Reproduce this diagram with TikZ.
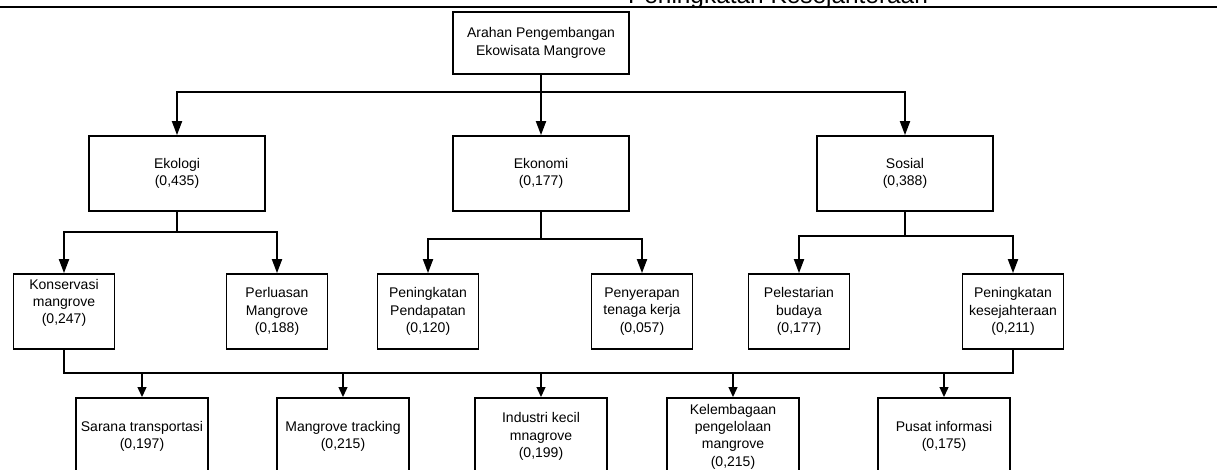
\documentclass[tikz,border=0pt]{standalone}
\usepackage{fontspec}
\setmainfont{Liberation Sans}
\usetikzlibrary{arrows.meta}
\begin{document}
\begin{tikzpicture}[x=0.75pt,y=-0.75pt,
  base/.style={draw=black, line width=1.3pt, fill=white, align=center, inner sep=0pt, font=\fontsize{10.5}{13}\selectfont},
  topbox/.style={base, minimum width=132pt, minimum height=46.5pt},
  lvltwo/.style={base, minimum width=132pt, minimum height=56.25pt},
  lvlthree/.style={base, minimum width=75.75pt, minimum height=56.25pt},
  lvlfour/.style={base, minimum width=99pt, minimum height=57.75pt},
  conn/.style={line width=1.4pt},
  arr/.style={conn, -{Triangle[length=10.5pt,width=7.5pt]}},
  arrsm/.style={conn, -{Triangle[length=7.5pt,width=6.5pt]}}
]
\clip (0,0) rectangle (1217,470);
\fill[white] (0,0) rectangle (1217,470);
\node[anchor=base, inner sep=0pt, font=\fontsize{18.3}{20}\selectfont] (hdr) at (778,3.5) {Peningkatan Kesejahteraan};
\draw[line width=1.8pt] (0,7) -- (1217,7);

\node[topbox] (top) at (541,43) {Arahan Pengembangan\\Ekowisata Mangrove};
\node[lvltwo] (ekol) at (177,173.5) {Ekologi\\(0,435)};
\node[lvltwo] (ekon) at (541,173.5) {Ekonomi\\(0,177)};
\node[lvltwo] (sos) at (905,173.5) {Sosial\\(0,388)};

\node[lvlthree, label={[base, draw=none, fill=none, yshift=6.4pt]center:{Konservasi\\mangrove\\(0,247)}}] (kons) at (64,311.5) {};
\node[lvlthree] (perl) at (277,311.5) {Perluasan\\Mangrove\\(0,188)};
\node[lvlthree] (pend) at (428,311.5) {Peningkatan\\Pendapatan\\(0,120)};
\node[lvlthree] (peny) at (642,311.5) {Penyerapan\\tenaga kerja\\(0,057)};
\node[lvlthree] (pele) at (799,311.5) {Pelestarian\\budaya\\(0,177)};
\node[lvlthree] (kese) at (1013,311.5) {Peningkatan\\kesejahteraan\\(0,211)};

\node[lvlfour] (sar) at (142,436.5) {Sarana transportasi\\(0,197)};
\node[lvlfour] (man) at (343,436.5) {Mangrove tracking\\(0,215)};
\node[lvlfour] (ind) at (541,436.5) {Industri kecil\\mnagrove\\(0,199)};
\node[lvlfour] (kel) at (733,436.5) {Kelembagaan\\pengelolaan\\mangrove\\(0,215)};
\node[lvlfour] (pus) at (944,436.5) {Pusat informasi\\(0,175)};

\coordinate (b1) at (541,92);
\draw[conn] (top.south) -- (b1);
\draw[arr] (b1) -| (ekol.north);
\draw[arr] (b1) -- (ekon.north);
\draw[arr] (b1) -| (sos.north);

\coordinate (c1) at (177,232);
\coordinate (c2) at (541,239);
\coordinate (c3) at (905,236);
\draw[conn] (ekol.south) -- (c1);
\draw[arr] (c1) -| (kons.north);
\draw[arr] (c1) -| (perl.north);
\draw[conn] (ekon.south) -- (c2);
\draw[arr] (c2) -| (pend.north);
\draw[arr] (c2) -| (peny.north);
\draw[conn] (sos.south) -- (c3);
\draw[arr] (c3) -| (pele.north);
\draw[arr] (c3) -| (kese.north);

\coordinate (dl) at (64,373);
\coordinate (dr) at (1013,373);
\draw[conn] (kons.south) -- (dl) -- (dr) -- (kese.south);
\foreach \n in {sar,man,ind,kel,pus} \draw[arrsm] (\n.north |- dl) -- (\n.north);
\end{tikzpicture}
\end{document}
